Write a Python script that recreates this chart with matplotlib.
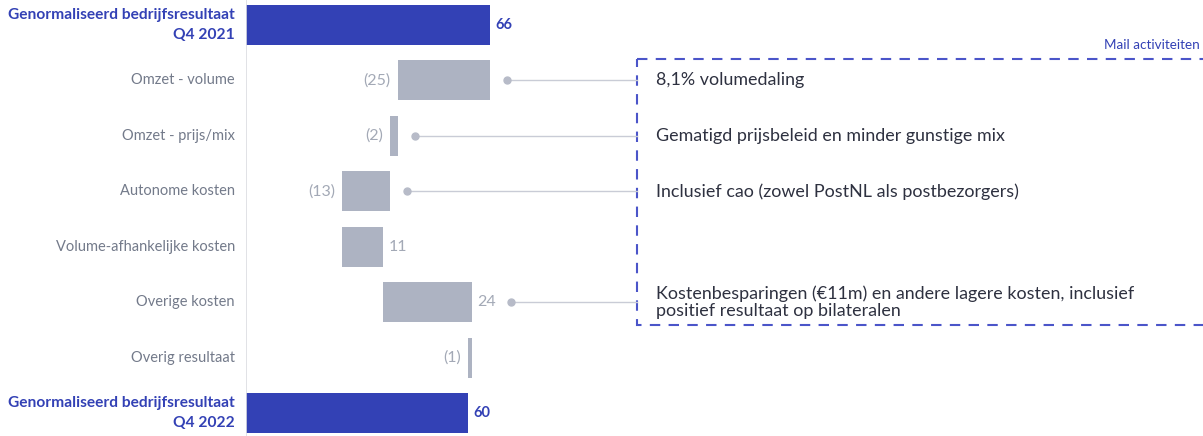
import matplotlib.pyplot as plt
from matplotlib.patches import Rectangle

plt.rcParams['font.family'] = ['Lato', 'DejaVu Sans']

categories = ['Genormaliseerd bedrijfsresultaat\nQ4 2021', 'Omzet - volume', 'Omzet - prijs/mix',
              'Autonome kosten', 'Volume-afhankelijke kosten', 'Overige kosten',
              'Overig resultaat', 'Genormaliseerd bedrijfsresultaat\nQ4 2022']
changes = [66, -25, -2, -13, 11, 24, -1, 60]
value_labels = ['66', '(25)', '(2)', '(13)', '11', '24', '(1)', '60']
notes = {1: '8,1% volumedaling',
         2: 'Gematigd prijsbeleid en minder gunstige mix',
         3: 'Inclusief cao (zowel PostNL als postbezorgers)',
         5: 'Kostenbesparingen (€11m) en andere lagere kosten, inclusief\npositief resultaat op bilateralen'}
box_title = 'Mail activiteiten'

blue = '#3341b5'
grey_bar = '#adb3c2'
grey_txt = '#737a8a'
grey_val = '#a3a9b6'

fig = plt.figure(figsize=(12.03, 4.36), dpi=100)
ax = fig.add_axes([246 / 1203, 0, 1 - 246 / 1203, 1])
ax.set_xlim(0, 957 / 3.7)
ax.set_ylim(7.415, -0.451)
ax.axis('off')

# waterfall
running = 0
ends = []
for i, c in enumerate(changes):
    total = i == 0 or i == len(changes) - 1
    if total:
        left, width = 0, c
        running = c
        color = blue
    else:
        left = running + min(c, 0)
        width = abs(c)
        running += c
        color = grey_bar
    ax.barh(i, width, left=left, height=0.72, color=color)
    right = left + width
    if total:
        ax.annotate(value_labels[i], (right, i), xytext=(4, 0), textcoords='offset points',
                    va='center', ha='left', fontsize=10.5, color=blue, fontweight='bold')
        label_end = right + 6
    elif c < 0:
        ax.annotate(value_labels[i], (left, i), xytext=(-5, 0), textcoords='offset points',
                    va='center', ha='right', fontsize=11.5, color=grey_val)
        label_end = right
    else:
        ax.annotate(value_labels[i], (right, i), xytext=(4, 0), textcoords='offset points',
                    va='center', ha='left', fontsize=11.5, color=grey_val)
        label_end = right + 6
    ends.append(label_end)

# category labels
for i, cat in enumerate(categories):
    total = i == 0 or i == len(categories) - 1
    ax.text(-11 / 3.7, i, cat, ha='right', va='center', fontsize=11.2 if total else 10.5,
            color=blue if total else grey_txt, fontweight='bold' if total else 'normal',
            linespacing=1.6, clip_on=False)

# axis line
ax.axvline(0, color='#dcdde2', lw=1.2)

# connectors and notes
box_x = (637 - 246) / 3.7
for i, txt in notes.items():
    x0 = ends[i] + 17 / 3.7
    ax.plot([x0, box_x], [i, i], color='#c9ccd6', lw=1)
    ax.plot(x0, i, 'o', color='#b7bbc8', ms=5)
    ax.text(box_x + 19 / 3.7, i, txt, ha='left', va='center', fontsize=12.9,
            color='#2e3140', linespacing=1.05)

# dashed box
box_top = (59 - 25) / 55.43
box_bot = (325 - 25) / 55.43
ax.add_patch(Rectangle((box_x, box_top), 1000, box_bot - box_top, fill=False,
                       edgecolor='#4b55c9', lw=1.5, ls=(0, (5, 4)), clip_on=False))
fig.text(0.997, 1 - 45 / 436, box_title, ha='right', va='center', fontsize=9.7, color=blue)

fig.savefig('out.png', dpi=100)
